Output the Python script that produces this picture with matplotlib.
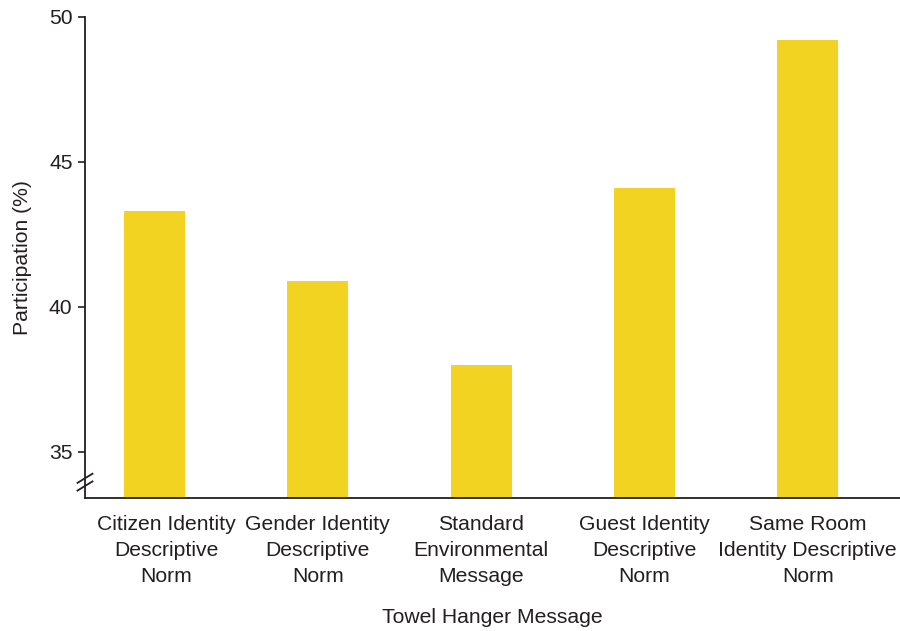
import numpy as np
import matplotlib
matplotlib.use("Agg")
import matplotlib.pyplot as plt
import matplotlib.transforms as mtransforms

# data
categories = [
    "Citizen Identity\nDescriptive\nNorm",
    "Gender Identity\nDescriptive\nNorm",
    "Standard\nEnvironmental\nMessage",
    "Guest Identity\nDescriptive\nNorm",
    "Same Room\nIdentity Descriptive\nNorm",
]
participation = [43.3, 40.9, 38.0, 44.1, 49.2]
y_ticks = [35, 40, 45, 50]

bar_color = "#F2D322"
ink = "#231F20"
fs = 15.2

plt.rcParams["font.family"] = ["Liberation Sans", "DejaVu Sans"]

fig = plt.figure(figsize=(9, 6.31), dpi=100)
ax = fig.add_axes([85 / 900, 133 / 631, 815 / 900, 481 / 631])

x = np.arange(len(categories))
ax.bar(x, participation, width=0.3735, color=bar_color, zorder=2)

ax.set_xlim(-0.4256, 4.565)
ax.set_ylim(33.4, 50)
ax.set_yticks(y_ticks)
ax.set_xticks(x)
ax.set_xticklabels(categories, fontsize=fs, color=ink, linespacing=1.45)

ax.tick_params(axis="x", length=0, pad=12.5)
ax.tick_params(axis="y", direction="out", length=5, width=1.2, color=ink,
               labelsize=fs, labelcolor=ink, pad=4)

# the first label sits a little to the right of its bar in the original
lbl = ax.get_xticklabels()[0]
lbl.set_transform(lbl.get_transform()
                  + mtransforms.ScaledTranslation(12 / 100, 0, fig.dpi_scale_trans))

for side in ["top", "right"]:
    ax.spines[side].set_visible(False)
for side in ["left", "bottom"]:
    ax.spines[side].set_color(ink)
    ax.spines[side].set_linewidth(1.3)

ax.set_ylabel("Participation (%)", fontsize=fs, color=ink, labelpad=12)
ax.set_xlabel("Towel Hanger Message", fontsize=fs, color=ink, labelpad=16)

# axis break marks on the y-axis
for c in (0.025, 0.041):
    ax.plot([-0.0092, 0.0092], [c - 0.0095, c + 0.0095], transform=ax.transAxes,
            color=ink, lw=1.3, clip_on=False, zorder=5)

fig.savefig("out.png", dpi=100)
